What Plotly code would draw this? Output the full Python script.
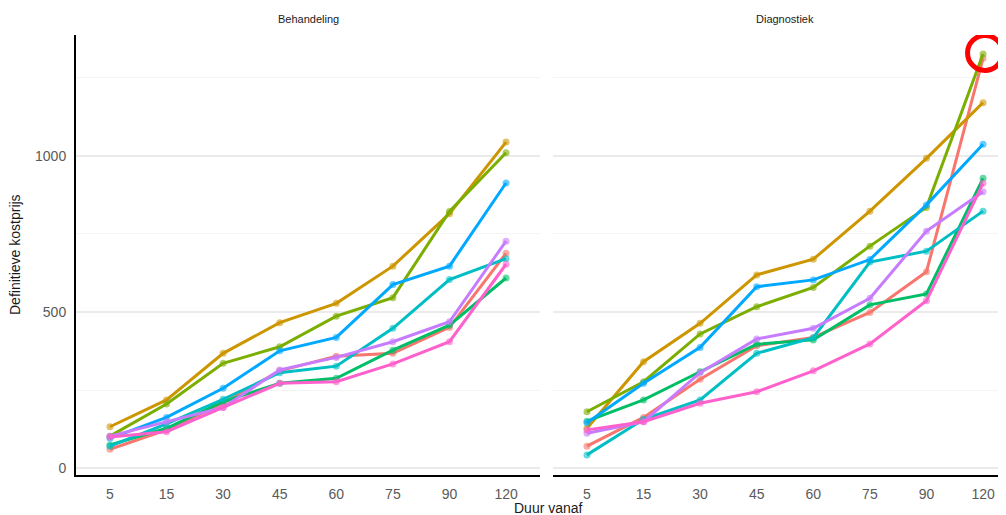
import plotly.graph_objects as go

# ---- data ----
durations = ["5", "15", "30", "45", "60", "75", "90", "120"]
panels = ["Behandeling", "Diagnostiek"]
series_names = ["Groep 1", "Groep 2", "Groep 3", "Groep 4", "Groep 5", "Groep 6", "Groep 7", "Groep 8"]

behandeling_1 = [61, 123, 208, 312, 359, 368, 451, 688]
behandeling_2 = [133, 219, 368, 466, 528, 647, 815, 1044]
behandeling_3 = [103, 206, 336, 389, 487, 546, 822, 1010]
behandeling_4 = [75, 128, 213, 272, 288, 378, 458, 609]
behandeling_5 = [71, 142, 221, 306, 327, 448, 604, 671]
behandeling_6 = [96, 163, 256, 376, 419, 588, 647, 913]
behandeling_7 = [103, 149, 195, 315, 355, 405, 469, 727]
behandeling_8 = [100, 117, 195, 272, 277, 334, 405, 653]

diagnostiek_1 = [71, 163, 285, 392, 419, 499, 629, 1312]
diagnostiek_2 = [128, 341, 464, 619, 669, 823, 992, 1170]
diagnostiek_3 = [181, 277, 430, 517, 579, 711, 835, 1326]
diagnostiek_4 = [151, 219, 309, 397, 411, 523, 558, 928]
diagnostiek_5 = [43, 157, 219, 368, 418, 660, 695, 823]
diagnostiek_6 = [146, 272, 387, 581, 603, 668, 843, 1037]
diagnostiek_7 = [112, 149, 306, 414, 448, 544, 759, 885]
diagnostiek_8 = [123, 149, 208, 245, 312, 398, 536, 912]

colors = ["#F8766D", "#CD9600", "#7CAE00", "#00BE67", "#00BFC4", "#00A9FF", "#C77CFF", "#FF61CC"]

behandeling = [behandeling_1, behandeling_2, behandeling_3, behandeling_4,
               behandeling_5, behandeling_6, behandeling_7, behandeling_8]
diagnostiek = [diagnostiek_1, diagnostiek_2, diagnostiek_3, diagnostiek_4,
               diagnostiek_5, diagnostiek_6, diagnostiek_7, diagnostiek_8]

FONT = "Liberation Sans, Arial, sans-serif"
TICK_COLOR = "#5a5a5a"

fig = go.Figure()
for panel_idx, data in enumerate([behandeling, diagnostiek]):
    xa = "x" if panel_idx == 0 else "x2"
    ya = "y" if panel_idx == 0 else "y2"
    for name, vals, col in zip(series_names, data, colors):
        fig.add_trace(go.Scatter(
            x=durations, y=vals, name=name, xaxis=xa, yaxis=ya,
            mode="lines+markers",
            line=dict(color=col, width=3),
            marker=dict(color=col, size=7, opacity=0.6),
            showlegend=False,
        ))

# page body has an 8px margin; lay out in window pixels minus that offset
OFF = 8
W, H = 1006 - OFF, 515 - OFF
ml, mr, mt, mb = 76 - OFF, 0, 35 - OFF, 515 - 475
pw = W - ml - mr
left_end = (540 - 76) / pw
right_start = (553 - 76) / pw
cat_px = (540 - 76) / 8.2
right_range_end = -0.6 + (1006 - 553) / cat_px

yr = [-21.4, 1386.6]
common_y = dict(
    range=yr, dtick=500, tick0=0, showgrid=True, gridcolor="#ebebeb", gridwidth=1.5,
    zeroline=False,
    minor=dict(dtick=250, tick0=0, showgrid=True, gridcolor="#f4f4f4", gridwidth=1),
    tickfont=dict(family=FONT, size=14, color=TICK_COLOR),
    ticks="",
)
common_x = dict(
    type="category", categoryorder="array", categoryarray=durations,
    showgrid=False, zeroline=False, showline=True, linecolor="black", linewidth=2,
    tickfont=dict(family=FONT, size=14, color=TICK_COLOR), ticks="",
    ticklabelstandoff=5,
)

fig.update_layout(
    width=W, height=H,
    margin=dict(l=ml, r=mr, t=mt, b=mb),
    paper_bgcolor="white", plot_bgcolor="white",
    font=dict(family=FONT),
    xaxis=dict(domain=[0, left_end], range=[-0.6, 7.6], anchor="y", **common_x),
    xaxis2=dict(domain=[right_start, 1], range=[-0.6, right_range_end], anchor="y2", **common_x),
    yaxis=dict(domain=[0, 1], anchor="x", showline=True, linecolor="black", linewidth=2,
               ticklabelstandoff=5, **common_y),
    yaxis2=dict(domain=[0, 1], anchor="x2", matches="y", showline=False,
                showticklabels=False, **common_y),
    showlegend=False,
)

# facet titles
left_center_px = (76 + 540) / 2
right_center_px = (553 + 553 + 8.2 * cat_px) / 2
for title, cx in zip(panels, [left_center_px, right_center_px]):
    fig.add_annotation(
        text=title, xref="paper", yref="paper",
        x=(cx - 76) / pw, y=1, yanchor="middle", xanchor="center", yshift=16,
        showarrow=False, font=dict(family=FONT, size=11, color="#1a1a1a"),
    )

# axis titles
fig.add_annotation(
    text="Definitieve kostprijs", xref="paper", yref="paper",
    x=0, y=0.5, xshift=-61, textangle=-90, showarrow=False,
    xanchor="center", yanchor="middle",
    font=dict(family=FONT, size=14, color="#1a1a1a"),
)
fig.add_annotation(
    text="Duur vanaf", xref="paper", yref="paper",
    x=(548 - 76) / pw, y=0, yanchor="top", xanchor="center", yshift=-23,
    showarrow=False, font=dict(family=FONT, size=14, color="#1a1a1a"),
)

# red highlight circle around the highest Diagnostiek value
peak_idx = max(range(len(diagnostiek)), key=lambda i: max(diagnostiek[i]))
peak_vals = diagnostiek[peak_idx]
peak_pos = peak_vals.index(max(peak_vals))
fig.add_shape(
    type="circle", xref="x2", yref="y2",
    xsizemode="pixel", ysizemode="pixel",
    xanchor=peak_pos, yanchor=peak_vals[peak_pos],
    x0=-15.5, x1=19.5, y0=-16.5, y1=18.5,
    line=dict(color="#FF0000", width=5),
    layer="above",
)

fig.write_html("out.html")
